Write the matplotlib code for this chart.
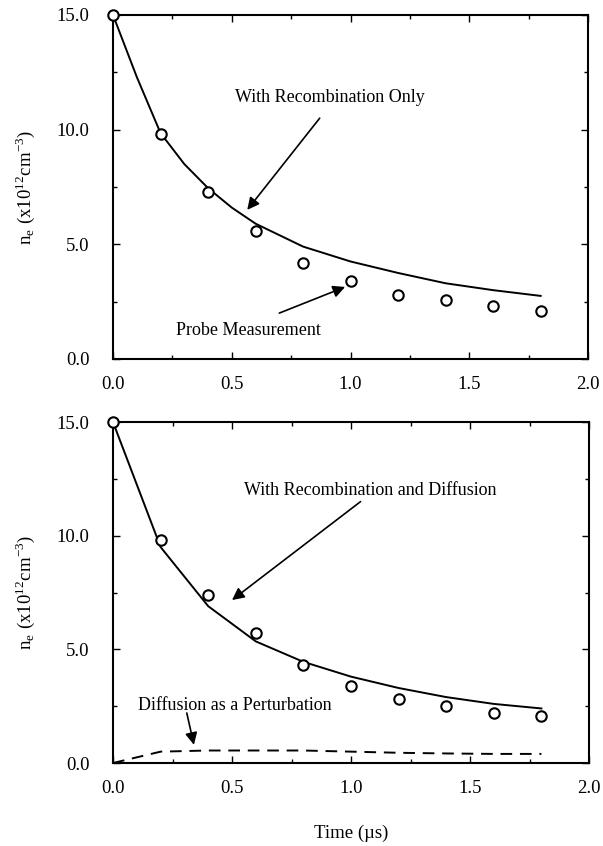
import numpy as np
import matplotlib
matplotlib.use("Agg")
import matplotlib.pyplot as plt
from matplotlib.ticker import MultipleLocator

plt.rcParams["font.family"] = ["Liberation Serif", "DejaVu Serif"]
plt.rcParams["mathtext.fontset"] = "stix"

# ---------------------------------------------------------------------------
# data
# ---------------------------------------------------------------------------
t_probe = [0.0, 0.2, 0.4, 0.6, 0.8, 1.0, 1.2, 1.4, 1.6, 1.8]
ne_probe_top = [15.0, 9.8, 7.3, 5.6, 4.2, 3.4, 2.8, 2.55, 2.3, 2.1]
ne_probe_bot = [15.0, 9.8, 7.4, 5.7, 4.3, 3.4, 2.8, 2.5, 2.2, 2.05]

t_recomb = [0.0, 0.1, 0.2, 0.3, 0.4, 0.5, 0.6, 0.8, 1.0, 1.2, 1.4, 1.6, 1.8]
ne_recomb = [15.0, 12.3, 9.85, 8.5, 7.45, 6.6, 5.9, 4.9, 4.25, 3.75, 3.3, 3.0, 2.75]

t_model = [0.0, 0.2, 0.4, 0.6, 0.8, 1.0, 1.2, 1.4, 1.6, 1.8]
ne_recomb_diff = [15.0, 9.5, 6.9, 5.35, 4.45, 3.8, 3.3, 2.9, 2.6, 2.4]
ne_diff_pert = [0.0, 0.5, 0.55, 0.55, 0.55, 0.5, 0.45, 0.42, 0.4, 0.4]

ylab = r"n$_{\mathregular{e}}$ (x10$^{\mathregular{12}}$cm$^{\mathregular{-3}}$)"
FS = 13          # annotation text
TFS = 13.5       # tick labels / axis labels


def style_axes(ax):
    ax.set_xlim(0, 2.0)
    ax.set_ylim(0, 15.0)
    ax.xaxis.set_major_locator(MultipleLocator(0.5))
    ax.xaxis.set_minor_locator(MultipleLocator(0.25))
    ax.yaxis.set_major_locator(MultipleLocator(5.0))
    ax.yaxis.set_minor_locator(MultipleLocator(2.5))
    ax.xaxis.set_major_formatter(lambda v, p: f"{v:.1f}")
    ax.yaxis.set_major_formatter(lambda v, p: f"{v:.1f}")
    for which in ("major", "minor"):
        ax.tick_params(which=which, direction="in", top=True, right=True,
                       length=5 if which == "major" else 3, width=1.0,
                       labelsize=TFS)
    ax.tick_params(axis="x", which="major", pad=12)
    ax.tick_params(axis="y", which="major", pad=17)
    for s in ax.spines.values():
        s.set_linewidth(1.5)
    ax.set_ylabel(ylab, fontsize=TFS, labelpad=14)


fig = plt.figure(figsize=(6.03, 8.46), dpi=100)
ax1 = fig.add_axes([0.1874, 0.5757, 0.788, 0.4066])
ax2 = fig.add_axes([0.1874, 0.0981, 0.7894, 0.4030])

arrow = dict(arrowstyle="-|>", color="black", lw=1.2, mutation_scale=18,
             shrinkA=0, shrinkB=0)
mk = dict(ls="none", marker="o", ms=7.5, mfc="white", mec="black", mew=1.5,
          clip_on=False, zorder=3)

# top panel ------------------------------------------------------------------
ax1.plot(t_recomb, ne_recomb, color="black", lw=1.4, clip_on=False)
ax1.plot(t_probe, ne_probe_top, **mk)
style_axes(ax1)
ax1.text(0.914, 11.38, "With Recombination Only", ha="center", va="center",
         fontsize=FS)
ax1.annotate("", xy=(0.565, 6.5), xytext=(0.87, 10.5), arrowprops=arrow)
ax1.text(0.57, 1.26, "Probe Measurement", ha="center", va="center",
         fontsize=FS)
ax1.annotate("", xy=(0.977, 3.14), xytext=(0.70, 2.0), arrowprops=arrow)

# bottom panel ---------------------------------------------------------------
ax2.plot(t_model, ne_recomb_diff, color="black", lw=1.4, clip_on=False)
ax2.plot(t_model, ne_diff_pert, color="black", lw=1.4, ls=(0, (6, 4)),
         clip_on=False)
ax2.plot(t_probe, ne_probe_bot, **mk)
style_axes(ax2)
ax2.text(1.08, 12.0, "With Recombination and Diffusion", ha="center",
         va="center", fontsize=FS)
ax2.annotate("", xy=(0.50, 7.17), xytext=(1.04, 11.5), arrowprops=arrow)
ax2.text(0.51, 2.55, "Diffusion as a Perturbation", ha="center",
         va="center", fontsize=FS)
ax2.annotate("", xy=(0.34, 0.8), xytext=(0.31, 2.2), arrowprops=arrow)
ax2.set_xlabel("Time (µs)", fontsize=TFS, labelpad=20)

fig.savefig("out.png", dpi=100)
